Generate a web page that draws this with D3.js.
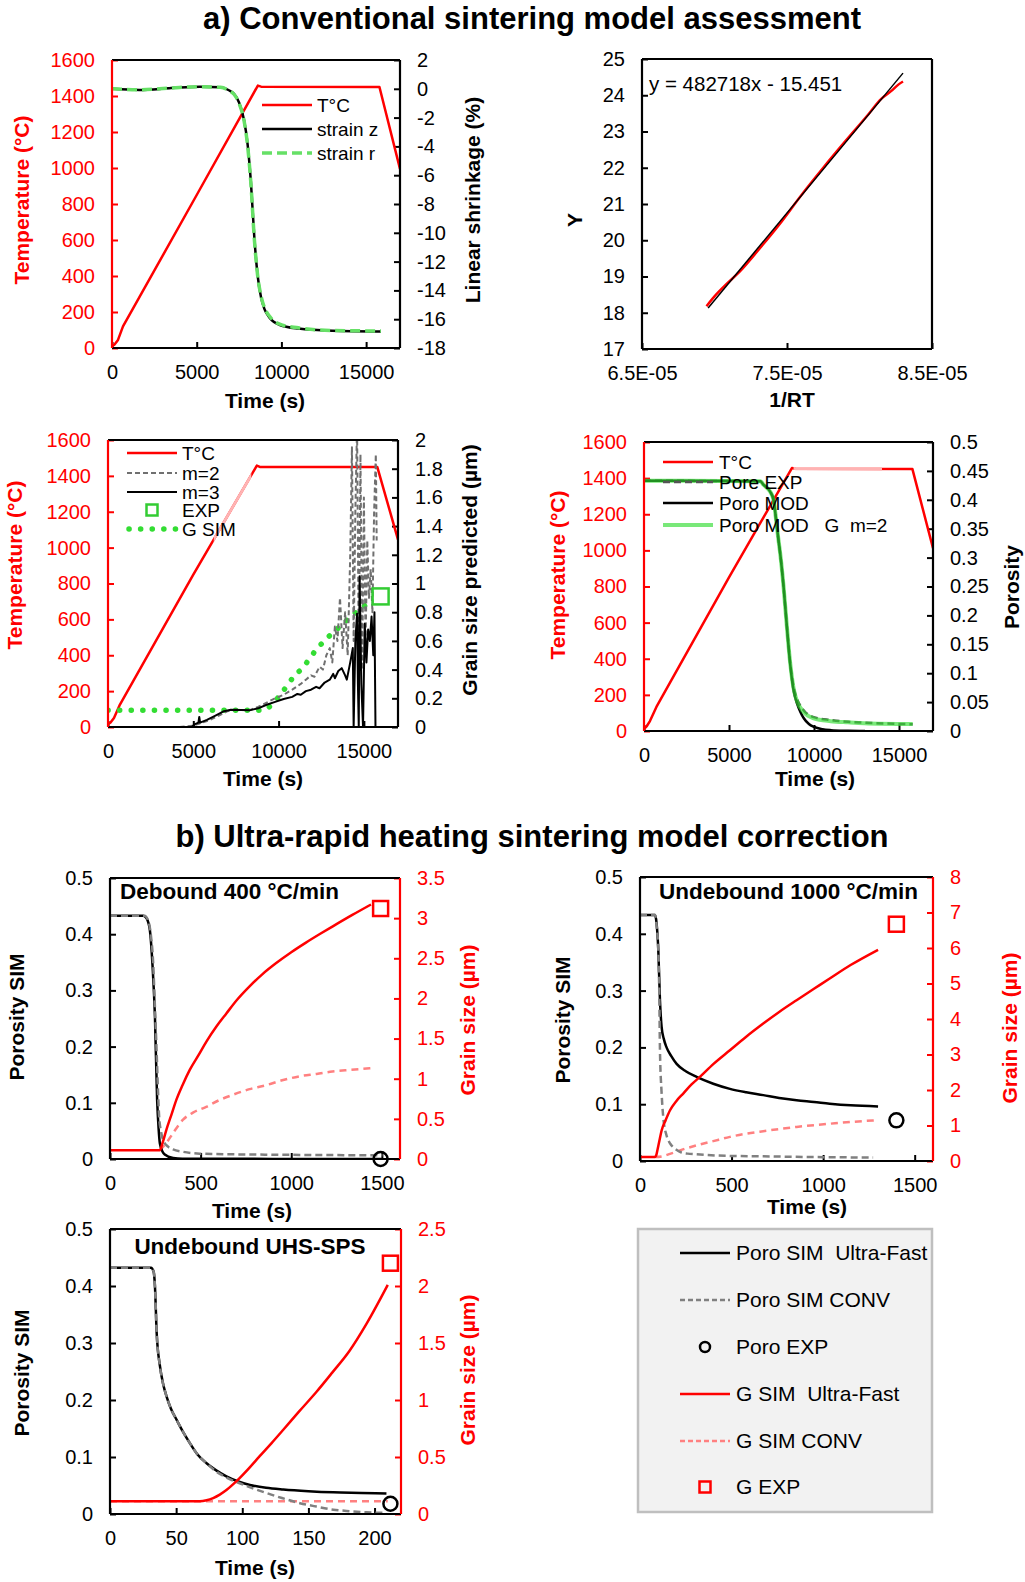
<!DOCTYPE html>
<html><head><meta charset="utf-8">
<script src="https://cdn.jsdelivr.net/npm/d3@7"></script>
<style>
body{margin:0;background:#fff}
svg{display:block}
text{font-family:"Liberation Sans",Arial,sans-serif}
</style>
</head><body>
<svg id="c" width="1025" height="1582"></svg>
<script>
// ---------------- DATA ----------------
const tempTicks = ["0","200","400","600","800","1000","1200","1400","1600"];
const timeTicksLong = ["0","5000","10000","15000"];
const timeTicks1500 = ["0","500","1000","1500"];
const timeTicks200 = ["0","50","100","150","200"];
const poroTicks = ["0","0.1","0.2","0.3","0.4","0.5"];

// Panel 1: temperature & shrinkage
const p1ShrinkTicks = ["-18","-16","-14","-12","-10","-8","-6","-4","-2","0","2"];
const p1Temp = [[0,9],[150,20],[354,45],[649,120],[5000,850],[8611,1458],[8800,1452],[15787,1450],[17000,995]];
const p1StrainZ = [[0,0],[1600,-0.08],[3500,0.05],[5200,0.15],[6400,0.1],[6900,-0.1],[7200,-0.35],[7500,-0.95],[7800,-2.2],[8000,-3.8],[8200,-6.5],[8400,-10.3],[8600,-13.0],[8800,-14.5],[9000,-15.3],[9300,-15.9],[9900,-16.4],[11000,-16.65],[13000,-16.8],[15880,-16.85]];
const p1StrainR = [[0,0],[1600,-0.07],[3500,0.06],[5200,0.15],[6400,0.1],[6900,-0.12],[7200,-0.38],[7500,-1.0],[7800,-2.25],[8000,-3.9],[8200,-6.6],[8400,-10.4],[8600,-13.0],[8800,-14.4],[9000,-15.2],[9300,-15.8],[9900,-16.35],[11000,-16.6],[13000,-16.78],[15880,-16.82]];

// Panel 2: Arrhenius plot
const p2XTicks = ["6.5E-05","7.5E-05","8.5E-05"];
const p2YTicks = ["17","18","19","20","21","22","23","24","25"];
const p2Fit = [[6.956e-5,18.13],[8.30e-5,24.61]];
const p2Data = [[6.945e-5,18.18],[7.0e-5,18.45],[7.08e-5,18.78],[7.17e-5,19.12],[7.3e-5,19.72],[7.45e-5,20.45],[7.6e-5,21.25],[7.75e-5,22.0],[7.9e-5,22.72],[8.05e-5,23.42],[8.15e-5,23.9],[8.22e-5,24.12],[8.27e-5,24.3],[8.30e-5,24.38]];
const p2Equation = "y = 482718x - 15.451";

// Panel 3: grain size predicted
const p3GrainTicks = ["0","0.2","0.4","0.6","0.8","1","1.2","1.4","1.6","1.8","2"];
const p3Temp = [[0,15],[150,25],[350,50],[700,125],[5000,850],[8725,1457],[8900,1450],[15784,1450],[17000,1045]];
const p3TempPale = [6200,8400];
const p3M2 = [[4200,0],[5000,0.01],[5500,0.03],[6000,0.05],[6500,0.08],[7000,0.11],[7500,0.12],[8300,0.118],[8800,0.14],[9300,0.17],[9800,0.2],[10300,0.225],[10800,0.26],[11300,0.3],[11600,0.33],[11900,0.36],[12100,0.35],[12400,0.42],[12600,0.4],[12800,0.5],[13000,0.55],[13150,0.45],[13300,0.7],[13450,0.6],[13600,0.9],[13750,0.55],[13900,0.8],[14050,0.5],[14200,1.2],[14300,1.95],[14400,0.6],[14500,1.5],[14600,2.1],[14700,0.5],[14800,1.9],[14900,0.4],[15000,1.6],[15100,0.6],[15200,1.3],[15300,0.9],[15400,1.1],[15500,0.8],[15600,1.5],[15700,1.9],[15750,1.3]];
const p3M3 = [[4900,0],[5100,0.02],[5300,0.03],[5350,0.07],[5400,0.03],[5800,0.05],[6300,0.08],[6800,0.11],[7200,0.12],[7800,0.118],[8300,0.116],[8800,0.13],[9300,0.155],[9800,0.175],[10300,0.195],[10800,0.21],[11100,0.23],[11300,0.225],[11600,0.25],[11900,0.26],[12200,0.28],[12400,0.27],[12700,0.31],[13000,0.33],[13200,0.37],[13300,0.34],[13500,0.39],[13700,0.41],[13900,0.36],[14000,0.33],[14200,0.45],[14350,0.55],[14400,0.0],[14500,0.6],[14600,0.79],[14650,0.3],[14700,0.0],[14750,1.05],[14850,0.3],[14950,0.0],[15050,0.72],[15150,0.45],[15250,0.68],[15350,0.6],[15450,0.77],[15550,0.5],[15620,0.8],[15680,0.0]];
const p3GSim = [[0,0.116],[9000,0.116],[9700,0.167],[10100,0.225],[10500,0.288],[10900,0.353],[11400,0.411],[11800,0.473],[12200,0.538],[12650,0.596],[13150,0.654],[13650,0.705],[14100,0.754],[14650,0.81],[15200,0.858],[15500,0.88]];
const p3Exp = [[15980,0.91]];

// Panel 4: porosity
const p4PoroTicks = ["0","0.05","0.1","0.15","0.2","0.25","0.3","0.35","0.4","0.45","0.5"];
const p4Temp = [[0,10],[150,25],[350,55],[730,133],[5000,850],[8700,1456],[8900,1452],[15790,1450],[17000,1012]];
const p4TempPale = [8800,14000];
const p4PoreExp = [[0,0.433],[6850,0.432],[7028,0.426],[7421,0.414],[7618,0.4],[7815,0.354],[7913,0.33],[8012,0.307],[8209,0.25],[8406,0.18],[8602,0.117],[8799,0.076],[8996,0.056],[9390,0.036],[9980,0.024],[10984,0.019],[12000,0.016],[12953,0.0145],[15807,0.0116]];
const p4PoroMod = [[0,0.433],[6850,0.432],[7028,0.426],[7421,0.414],[7618,0.4],[7815,0.354],[7913,0.33],[8012,0.307],[8209,0.25],[8406,0.18],[8602,0.115],[8800,0.07],[9000,0.048],[9200,0.033],[9400,0.022],[9700,0.012],[10000,0.007],[10500,0.003],[11000,0.0015],[12000,0.0005],[13000,0]];
const p4PoroModG = [[0,0.433],[6850,0.432],[7028,0.426],[7421,0.414],[7618,0.4],[7815,0.354],[7913,0.33],[8012,0.307],[8209,0.25],[8406,0.18],[8602,0.117],[8799,0.074],[8996,0.052],[9390,0.033],[9980,0.022],[10984,0.017],[12000,0.015],[12953,0.0135],[15807,0.012]];

// Panel 5: Debound 400 °C/min
const p5GrainTicks = ["0","0.5","1","1.5","2","2.5","3","3.5"];
const p5PoroUF = [[0,0.433],[183,0.433],[202,0.428],[220,0.407],[235,0.342],[248,0.253],[260,0.105],[268,0.055],[275,0.028],[290,0.013],[302,0.008],[348,0.002],[400,0.0005],[1500,0]];
const p5PoroCONV = [[0,0.433],[190,0.433],[210,0.425],[225,0.4],[238,0.35],[248,0.27],[257,0.194],[265,0.12],[271,0.076],[282,0.048],[293,0.034],[320,0.022],[348,0.017],[400,0.013],[495,0.0095],[700,0.0082],[862,0.0077],[1200,0.007],[1503,0.0065]];
const p5GUF = [[0,0.108],[275,0.108],[290,0.2],[311,0.364],[340,0.56],[366,0.737],[400,0.92],[440,1.11],[490,1.3],[531,1.46],[590,1.66],[641,1.81],[700,1.98],[770,2.15],[840,2.3],[917,2.44],[1000,2.575],[1081,2.695],[1160,2.805],[1227,2.895],[1337,3.04],[1440,3.17]];
const p5GCONV = [[275,0.108],[311,0.2],[350,0.33],[403,0.49],[460,0.58],[531,0.65],[600,0.73],[678,0.8],[770,0.87],[862,0.92],[950,0.98],[1045,1.03],[1140,1.06],[1227,1.09],[1330,1.11],[1438,1.13]];
const p5GExp = [[1493,3.12]];
const p5PoroExp = [[1493,0.0]];

// Panel 6: Undebound 1000 °C/min
const p6GrainTicks = ["0","1","2","3","4","5","6","7","8"];
const p6PoroUF = [[0,0.433],[82,0.433],[90,0.42],[100,0.371],[109,0.283],[118,0.236],[130,0.215],[145,0.2],[170,0.185],[200,0.171],[250,0.158],[309,0.148],[400,0.136],[491,0.127],[580,0.121],[673,0.116],[760,0.111],[855,0.107],[950,0.104],[1036,0.101],[1150,0.098],[1300,0.096]];
const p6PoroCONV = [[0,0.433],[82,0.433],[92,0.41],[100,0.371],[105,0.3],[109,0.195],[118,0.12],[127,0.077],[145,0.045],[164,0.031],[190,0.022],[218,0.016],[260,0.013],[309,0.0117],[491,0.009],[673,0.0082],[1000,0.0068],[1273,0.006]];
const p6GUF = [[0,0.11],[80,0.11],[88,0.15],[95,0.3],[105,0.55],[118,0.86],[140,1.15],[164,1.43],[200,1.7],[236,1.9],[280,2.15],[327,2.37],[400,2.73],[491,3.12],[580,3.5],[673,3.87],[760,4.2],[855,4.53],[950,4.85],[1036,5.14],[1150,5.52],[1300,5.95]];
const p6GCONV = [[80,0.11],[120,0.13],[164,0.2],[230,0.32],[309,0.44],[400,0.56],[491,0.68],[580,0.77],[673,0.84],[760,0.9],[855,0.96],[950,1.01],[1036,1.05],[1150,1.1],[1300,1.15]];
const p6GExp = [[1400,6.67]];
const p6PoroExp = [[1400,0.0716]];

// Panel 7: Undebound UHS-SPS
const p7GrainTicks = ["0","0.5","1","1.5","2","2.5"];
const p7PoroUF = [[0,0.432],[31,0.432],[33,0.425],[34,0.399],[35.3,0.317],[37.8,0.259],[40,0.23],[42.8,0.206],[46,0.185],[50.4,0.165],[55,0.145],[60.5,0.124],[66,0.105],[73,0.089],[80,0.077],[88,0.066],[97,0.057],[105.8,0.051],[118,0.046],[131,0.043],[150,0.04],[168.8,0.038],[190,0.037],[209,0.036]];
const p7PoroCONV = [[0,0.432],[31,0.432],[33,0.425],[34,0.399],[35.3,0.317],[37.8,0.259],[40,0.23],[42.8,0.206],[46,0.185],[50.4,0.165],[55,0.145],[60.5,0.124],[66,0.105],[73,0.089],[80,0.075],[88,0.064],[98,0.054],[108,0.045],[118,0.037],[130,0.028],[143.6,0.019],[156,0.013],[168.8,0.0076],[181,0.005],[194,0.003],[209,0.0018]];
const p7GUF = [[0,0.111],[68,0.111],[73,0.12],[78,0.14],[83,0.17],[88,0.21],[93,0.26],[98,0.315],[105,0.4],[113,0.505],[122,0.62],[131,0.739],[143,0.9],[156,1.07],[168,1.24],[181,1.43],[194,1.67],[210,2.01]];
const p7GCONV = [[0,0.111],[210,0.111]];
const p7GExp = [[212,2.2]];
const p7PoroExp = [[212,0.018]];

// Legend labels
const bLegend = ["Poro SIM  Ultra-Fast","Poro SIM CONV","Poro EXP","G SIM  Ultra-Fast","G SIM CONV","G EXP"];

// ---------------- DRAWING ----------------
const RED = "#ff0000", GRAY = "#808080", PINK = "#ff8080", BLACK = "#000000";
const SMOOTH = d3.curveMonotoneX, LIN = d3.curveLinear;
const svg = d3.select("#c");
let clipN = 0;

function makeAxis(gen, ticks) {
  const vals = ticks.map(Number);
  return gen.tickValues(vals).tickFormat(d => ticks[vals.indexOf(d)]).tickSize(-6).tickSizeOuter(0).tickPadding(17);
}
function styleAxis(sel, color) {
  sel.attr("font-size", 20).attr("font-family", '"Liberation Sans", Arial, sans-serif');
  sel.select(".domain").remove();
  sel.selectAll("line").attr("stroke", color).attr("stroke-width", 2);
  sel.selectAll("text").attr("fill", color);
}

function panel(o) {
  const x = d3.scaleLinear().domain(o.xd).range([o.l, o.r]);
  const yl = d3.scaleLinear().domain(o.yld).range([o.b, o.t]);
  const yr = o.yrd ? d3.scaleLinear().domain(o.yrd).range([o.b, o.t]) : null;
  const id = "clip" + (++clipN);
  svg.append("clipPath").attr("id", id).append("rect")
    .attr("x", o.l).attr("y", o.t - 1).attr("width", o.r - o.l).attr("height", o.b - o.t + 1);
  const g = svg.append("g");
  g.append("g").attr("transform", `translate(0,${o.b})`)
    .call(makeAxis(d3.axisBottom(x), o.xt)).call(s => styleAxis(s, BLACK));
  g.append("g").attr("transform", `translate(${o.l},0)`)
    .call(makeAxis(d3.axisLeft(yl), o.ylt)).call(s => styleAxis(s, o.lc));
  if (yr) {
    g.append("g").attr("transform", `translate(${o.r},0)`)
      .call(makeAxis(d3.axisRight(yr), o.yrt)).call(s => styleAxis(s, o.rc));
  }
  const plot = g.append("g").attr("clip-path", `url(#${id})`);
  const fr = g.append("g").attr("stroke-width", 2.2);
  fr.append("line").attr("x1", o.l).attr("x2", o.r).attr("y1", o.t).attr("y2", o.t).attr("stroke", BLACK);
  fr.append("line").attr("x1", o.l).attr("x2", o.r).attr("y1", o.b).attr("y2", o.b).attr("stroke", BLACK);
  fr.append("line").attr("x1", o.l).attr("x2", o.l).attr("y1", o.t).attr("y2", o.b).attr("stroke", o.lc);
  fr.append("line").attr("x1", o.r).attr("x2", o.r).attr("y1", o.t).attr("y2", o.b).attr("stroke", o.rcLine || o.rc || BLACK);
  const T = (txt, tx, ty, color, rot) => {
    const t = g.append("text").text(txt).attr("font-weight", "bold").attr("font-size", 21)
      .attr("fill", color).attr("text-anchor", "middle");
    if (rot) t.attr("transform", `translate(${tx},${ty}) rotate(-90)`).attr("dy", "0.35em");
    else t.attr("x", tx).attr("y", ty);
  };
  T(o.xTitle[0], o.xTitle[1], o.xTitle[2], BLACK, false);
  T(o.ylTitle[0], o.ylTitle[1], o.ylTitle[2], o.lc, true);
  if (o.yrTitle) T(o.yrTitle[0], o.yrTitle[1], o.yrTitle[2], o.rc, true);
  const line = (data, ys, attrs, curve, clipRange) => {
    const p = plot.append("path").datum(data)
      .attr("d", d3.line().curve(curve || LIN).x(d => x(d[0])).y(d => ys(d[1])))
      .attr("fill", "none").attr("stroke-linejoin", "round");
    Object.entries(attrs).forEach(([k, v]) => p.attr(k, v));
    if (clipRange) {
      const cid = "clip" + (++clipN);
      svg.append("clipPath").attr("id", cid).append("rect")
        .attr("x", x(clipRange[0])).attr("y", o.t).attr("width", x(clipRange[1]) - x(clipRange[0])).attr("height", o.b - o.t);
      p.attr("clip-path", `url(#${cid})`);
    }
    return p;
  };
  return {x, yl, yr, g, plot, line};
}

function circleMark(g, cx, cy, r) {
  g.append("circle").attr("cx", cx).attr("cy", cy).attr("r", r).attr("fill", "none").attr("stroke", BLACK).attr("stroke-width", 2.5);
}
function squareMark(g, cx, cy, s, color) {
  g.append("rect").attr("x", cx - s/2).attr("y", cy - s/2).attr("width", s).attr("height", s)
    .attr("fill", "none").attr("stroke", color).attr("stroke-width", 2.5);
}
function legendRow(g, x1, x2, tx, y, label, attrs, fs) {
  if (attrs) {
    const l = g.append("line").attr("x1", x1).attr("x2", x2).attr("y1", y).attr("y2", y);
    Object.entries(attrs).forEach(([k, v]) => l.attr(k, v));
  }
  g.append("text").text(label).attr("x", tx).attr("y", y).attr("dy", "0.35em")
    .attr("font-size", fs).attr("fill", BLACK).style("white-space", "pre");
}

// Titles
svg.append("text").text("a) Conventional sintering model assessment").attr("x", 532).attr("y", 29)
  .attr("text-anchor", "middle").attr("font-weight", "bold").attr("font-size", 31);
svg.append("text").text("b) Ultra-rapid heating sintering model correction").attr("x", 532).attr("y", 847)
  .attr("text-anchor", "middle").attr("font-weight", "bold").attr("font-size", 31);

// ---- Panel 1
{
  const P = panel({l:112, r:400, t:60, b:348, xd:[0,17000], xt:timeTicksLong,
    yld:[0,1600], ylt:tempTicks, lc:RED, yrd:[-18,2], yrt:p1ShrinkTicks, rc:BLACK,
    xTitle:["Time (s)", 265, 408], ylTitle:["Temperature (°C)", 22, 200], yrTitle:["Linear shrinkage (%)", 473, 200]});
  P.line(p1Temp, P.yl, {stroke:RED, "stroke-width":2.5});
  P.line(p1StrainZ, P.yr, {stroke:BLACK, "stroke-width":2.5}, SMOOTH);
  P.line(p1StrainR, P.yr, {stroke:"#66e066", "stroke-width":3.5, "stroke-dasharray":"10,5"}, SMOOTH);
  const lg = P.g.append("g");
  legendRow(lg, 262, 312, 317, 105, "T°C", {stroke:RED, "stroke-width":2.5}, 19);
  legendRow(lg, 262, 312, 317, 129, "strain z", {stroke:BLACK, "stroke-width":2.5}, 19);
  legendRow(lg, 262, 312, 317, 153, "strain r", {stroke:"#66e066", "stroke-width":3.5, "stroke-dasharray":"10,5"}, 19);
}

// ---- Panel 2
{
  const P = panel({l:642, r:932, t:59, b:349, xd:[6.5e-5,8.5e-5], xt:p2XTicks,
    yld:[17,25], ylt:p2YTicks, lc:BLACK, rcLine:BLACK,
    xTitle:["1/RT", 792, 407], ylTitle:["Y", 575, 220]});
  P.line(p2Data, P.yl, {stroke:RED, "stroke-width":2.5}, SMOOTH);
  P.line(p2Fit, P.yl, {stroke:BLACK, "stroke-width":1.5});
  P.g.append("text").text(p2Equation).attr("x", 649).attr("y", 91).attr("font-size", 20.5);
}

// ---- Panel 3
{
  const P = panel({l:108, r:398, t:440, b:727, xd:[0,17000], xt:timeTicksLong,
    yld:[0,1600], ylt:tempTicks, lc:RED, yrd:[0,2], yrt:p3GrainTicks, rc:BLACK,
    xTitle:["Time (s)", 263, 786], ylTitle:["Temperature (°C)", 15, 565], yrTitle:["Grain size predicted (µm)", 470, 570]});
  P.line(p3Temp, P.yl, {stroke:RED, "stroke-width":2.5});
  P.line(p3Temp, P.yl, {stroke:"#ffb3b3", "stroke-width":2.8}, LIN, p3TempPale);
  P.line(p3GSim, P.yr, {stroke:"#33dd33", "stroke-width":5.5, "stroke-dasharray":"0.1,11.5", "stroke-linecap":"round"}, SMOOTH);
  P.line(p3M2, P.yr, {stroke:"#707070", "stroke-width":2, "stroke-dasharray":"5,3"});
  P.line(p3M3, P.yr, {stroke:BLACK, "stroke-width":2});
  p3Exp.forEach(d => squareMark(P.g, P.x(d[0]), P.yr(d[1]), 16, "#33cc33"));
  const lg = P.g.append("g");
  legendRow(lg, 127, 177, 182, 453, "T°C", {stroke:RED, "stroke-width":2.5}, 19);
  legendRow(lg, 127, 177, 182, 473, "m=2", {stroke:"#707070", "stroke-width":2, "stroke-dasharray":"5,3"}, 19);
  legendRow(lg, 127, 177, 182, 492, "m=3", {stroke:BLACK, "stroke-width":2}, 19);
  legendRow(lg, 127, 177, 182, 510, "EXP", null, 19);
  squareMark(lg, 152, 510, 11, "#33cc33");
  legendRow(lg, 129, 177, 182, 529, "G SIM", {stroke:"#33dd33", "stroke-width":5.5, "stroke-dasharray":"0.1,11.5", "stroke-linecap":"round"}, 19);
}

// ---- Panel 4
{
  const P = panel({l:644, r:933, t:442, b:731, xd:[0,17000], xt:timeTicksLong,
    yld:[0,1600], ylt:tempTicks, lc:RED, yrd:[0,0.5], yrt:p4PoroTicks, rc:BLACK,
    xTitle:["Time (s)", 815, 786], ylTitle:["Temperature (°C)", 558, 575], yrTitle:["Porosity", 1012, 587]});
  P.line(p4Temp, P.yl, {stroke:RED, "stroke-width":2.5});
  P.line(p4Temp, P.yl, {stroke:"#ffb3b3", "stroke-width":2.8}, LIN, p4TempPale);
  P.line(p4PoreExp, P.yr, {stroke:"#555555", "stroke-width":2.5, "stroke-dasharray":"7,4"}, SMOOTH);
  P.line(p4PoroMod, P.yr, {stroke:BLACK, "stroke-width":2.5}, SMOOTH);
  P.line(p4PoroModG, P.yr, {stroke:"#33dd33", "stroke-width":4, opacity:0.65}, SMOOTH);
  const lg = P.g.append("g");
  legendRow(lg, 663, 713, 719, 462, "T°C", {stroke:RED, "stroke-width":2.5}, 19);
  legendRow(lg, 663, 713, 719, 482, "Pore EXP", {stroke:"#555555", "stroke-width":2.5, "stroke-dasharray":"7,4"}, 19);
  legendRow(lg, 663, 713, 719, 503, "Poro MOD", {stroke:BLACK, "stroke-width":2.5}, 19);
  legendRow(lg, 663, 713, 719, 525, "Poro MOD   G  m=2", {stroke:"#33dd33", "stroke-width":4, opacity:0.65}, 19);
}

function bPanel(cfg, poroUF, poroCONV, gUF, gCONV, gExp, poroExp, title, tx, ty, anchor) {
  const P = panel(cfg);
  P.line(gCONV, P.yr, {stroke:PINK, "stroke-width":2.5, "stroke-dasharray":"7,5"}, SMOOTH);
  P.line(poroUF, P.yl, {stroke:BLACK, "stroke-width":2.5}, SMOOTH);
  P.line(poroCONV, P.yl, {stroke:GRAY, "stroke-width":2.5, "stroke-dasharray":"7,4"}, SMOOTH);
  P.line(gUF, P.yr, {stroke:RED, "stroke-width":2.5}, SMOOTH);
  gExp.forEach(d => squareMark(P.g, P.x(d[0]), P.yr(d[1]), 15, RED));
  poroExp.forEach(d => circleMark(P.g, P.x(d[0]), P.yl(d[1]), 7));
  P.g.append("text").text(title).attr("x", tx).attr("y", ty).attr("text-anchor", anchor)
    .attr("font-weight", "bold").attr("font-size", 22.5);
  return P;
}

bPanel({l:110, r:400, t:878, b:1159, xd:[0,1600], xt:timeTicks1500,
  yld:[0,0.5], ylt:poroTicks, lc:BLACK, yrd:[0,3.5], yrt:p5GrainTicks, rc:RED,
  xTitle:["Time (s)", 252, 1218], ylTitle:["Porosity SIM", 17, 1017], yrTitle:["Grain size (µm)", 468, 1020]},
  p5PoroUF, p5PoroCONV, p5GUF, p5GCONV, p5GExp, p5PoroExp, "Debound 400 °C/min", 120, 899, "start");

bPanel({l:640, r:933, t:877, b:1161, xd:[0,1600], xt:timeTicks1500,
  yld:[0,0.5], ylt:poroTicks, lc:BLACK, yrd:[0,8], yrt:p6GrainTicks, rc:RED,
  xTitle:["Time (s)", 807, 1214], ylTitle:["Porosity SIM", 563, 1020], yrTitle:["Grain size (µm)", 1010, 1028]},
  p6PoroUF, p6PoroCONV, p6GUF, p6GCONV, p6GExp, p6PoroExp, "Undebound 1000 °C/min", 659, 899, "start");

bPanel({l:110, r:401, t:1229, b:1514, xd:[0,220], xt:timeTicks200,
  yld:[0,0.5], ylt:poroTicks, lc:BLACK, yrd:[0,2.5], yrt:p7GrainTicks, rc:RED,
  xTitle:["Time (s)", 255, 1575], ylTitle:["Porosity SIM", 22, 1373], yrTitle:["Grain size (µm)", 468, 1370]},
  p7PoroUF, p7PoroCONV, p7GUF, p7GCONV, p7GExp, p7PoroExp, "Undebound UHS-SPS", 250, 1254, "middle");

// Legend box for section b
{
  const lg = svg.append("g");
  lg.append("rect").attr("x", 638).attr("y", 1229).attr("width", 294).attr("height", 283)
    .attr("fill", "#f2f2f2").attr("stroke", "#bfbfbf").attr("stroke-width", 2.5);
  const ys = [1253,1300,1347,1394,1441,1487];
  legendRow(lg, 680, 730, 736, ys[0], bLegend[0], {stroke:BLACK, "stroke-width":2.5}, 21);
  legendRow(lg, 680, 730, 736, ys[1], bLegend[1], {stroke:GRAY, "stroke-width":2.5, "stroke-dasharray":"5,3"}, 21);
  legendRow(lg, 0, 0, 736, ys[2], bLegend[2], null, 21);
  circleMark(lg, 705, ys[2], 5);
  legendRow(lg, 680, 730, 736, ys[3], bLegend[3], {stroke:RED, "stroke-width":2.5}, 21);
  legendRow(lg, 680, 730, 736, ys[4], bLegend[4], {stroke:PINK, "stroke-width":2.5, "stroke-dasharray":"5,3"}, 21);
  legendRow(lg, 0, 0, 736, ys[5], bLegend[5], null, 21);
  squareMark(lg, 705, ys[5], 11, RED);
}
</script>
</body></html>
